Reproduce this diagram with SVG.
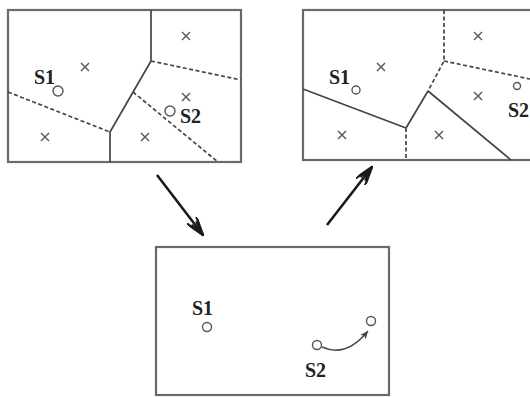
<svg xmlns="http://www.w3.org/2000/svg" width="530" height="397" viewBox="0 0 530 397">
<defs>
<style>
.box{fill:#fff;stroke:#6a6a6a;stroke-width:2.2}
.sol{fill:none;stroke:#444;stroke-width:1.7}
.dash{fill:none;stroke:#444;stroke-width:1.7;stroke-dasharray:4 2.5}
.x{fill:none;stroke:#555;stroke-width:1.4}
.site{fill:#fff;stroke:#555;stroke-width:1.4}
.lbl{font-family:"Liberation Serif",serif;font-weight:bold;font-size:20px;fill:#222}
.big{fill:none;stroke:#1a1a1a;stroke-width:2.6}
.thin{fill:none;stroke:#444;stroke-width:1.4}
</style>
<marker id="bigHead" viewBox="0 0 20 12" refX="19" refY="6" markerWidth="20" markerHeight="12" markerUnits="userSpaceOnUse" orient="auto">
<path d="M0,0 L19,6 L0,12 M4,3 L19,6 L4,9" fill="none" stroke="#1a1a1a" stroke-width="2.4"/>
<path d="M8,4 L19,6 L8,8 Z" fill="#1a1a1a"/>
</marker>
<marker id="smallHead" viewBox="0 0 10 8" refX="9" refY="4" markerWidth="9" markerHeight="8" markerUnits="userSpaceOnUse" orient="auto">
<path d="M0,0 L9,4 L0,8 L2.5,4 Z" fill="#444"/>
</marker>
<path id="xm" d="M-4,-4 L4,4 M-4,4 L4,-4"/>
</defs>

<g id="left-panel">
<rect class="box" x="8" y="10" width="233" height="152"/>
<path class="sol" d="M151,10 L151,61 L110,132 L110,162"/>
<path class="dash" d="M151,61 L241,80"/>
<path class="dash" d="M8,92 L110,132"/>
<path class="dash" d="M133,92 L218,162"/>
<use href="#xm" class="x" x="186" y="36"/>
<use href="#xm" class="x" x="85" y="67"/>
<use href="#xm" class="x" x="186" y="97"/>
<use href="#xm" class="x" x="45" y="137"/>
<use href="#xm" class="x" x="145" y="137"/>
<text class="lbl" x="34" y="84">S1</text>
<circle class="site" cx="58" cy="91" r="5"/>
<circle class="site" cx="170" cy="111" r="5"/>
<text class="lbl" x="180" y="123">S2</text>
</g>

<g id="right-panel">
<rect class="box" x="303" y="10" width="240" height="150"/>
<path class="dash" d="M444,10 L444,61 L428,91"/>
<path class="dash" d="M444,61 L530,79"/>
<path class="sol" d="M428,91 L406,128"/>
<path class="dash" d="M406,128 L406,160"/>
<path class="sol" d="M303,89 L406,128"/>
<path class="sol" d="M428,91 L511,160"/>
<use href="#xm" class="x" x="478" y="36"/>
<use href="#xm" class="x" x="381" y="67"/>
<use href="#xm" class="x" x="478" y="96"/>
<use href="#xm" class="x" x="342" y="135"/>
<use href="#xm" class="x" x="439" y="135"/>
<text class="lbl" x="329" y="84">S1</text>
<circle class="site" cx="356" cy="90" r="4"/>
<circle class="site" cx="517" cy="86" r="3.5"/>
<text class="lbl" x="508" y="117">S2</text>
</g>

<g id="bottom-panel">
<rect class="box" x="156" y="247" width="233" height="148"/>
<text class="lbl" x="192" y="315">S1</text>
<circle class="site" cx="207" cy="327" r="4.5"/>
<circle class="site" cx="317" cy="345" r="4.5"/>
<circle class="site" cx="371" cy="321" r="4.5"/>
<text class="lbl" x="305" y="377">S2</text>
</g>

<g id="connectors">
<path class="big" d="M157,175 L203,235" marker-end="url(#bigHead)"/>
<path class="big" d="M327,225 L372,167" marker-end="url(#bigHead)"/>
<path class="thin" d="M322,347 Q346,358 368,331" marker-end="url(#smallHead)"/>
</g>
</svg>
